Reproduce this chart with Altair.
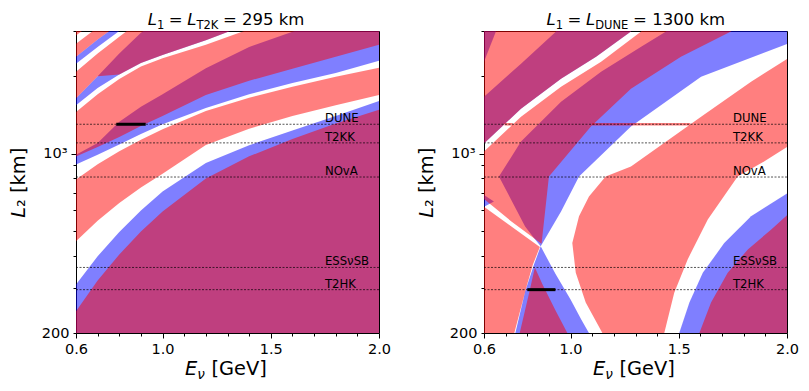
import altair as alt
import pandas as pd

FONT = "DejaVu Sans"

# ---------------- axis / reference data ----------------
E_DOMAIN = [0.6, 2.0]
L_DOMAIN = [200, 3000]
E_TICKS = [0.6, 0.7, 0.8, 0.9, 1.0, 1.1, 1.2, 1.3, 1.4, 1.5, 1.6, 1.7, 1.8, 1.9, 2.0]
L_TICKS = [200, 300, 400, 500, 600, 700, 800, 900, 1000, 2000, 3000]

EXPERIMENTS = ["DUNE", "T2KK", "NOvA", "ESSνSB", "T2HK"]
EXP_L = [1300, 1100, 810, 360, 295]
LABEL_E = 1.75

LEFT_SEG_E = [0.786, 0.922]
LEFT_SEG_L = 1300
RIGHT_SEG_E = [0.80, 0.93]
RIGHT_SEG_L = 295

# ---------------- left panel (L1 = 295 km) boundaries ----------------
E_GRID = [0.5, 0.6, 0.7, 0.8, 0.9, 1.0, 1.2, 1.4, 1.6, 1.8, 2.0, 2.1]
FLOOR = [100] * 12
CEIL = [12000] * 12
LB1 = [190, 243, 320, 404, 497, 595, 800, 975, 1140, 1310, 1480, 1560]
LB2 = [240, 309, 398, 495, 600, 712, 918, 1077, 1230, 1400, 1600, 1680]
LB3 = [370, 455, 547, 641, 737, 835, 1080, 1250, 1400, 1540, 1690, 1760]
LB4 = [690, 793, 908, 1021, 1132, 1243, 1465, 1650, 1820, 1990, 2160, 2250]
LB5 = [820, 906, 990, 1085, 1190, 1300, 1505, 1700, 1880, 2060, 2300, 2400]
LB6 = [880, 973, 1060, 1160, 1280, 1400, 1690, 1920, 2140, 2380, 2650, 2800]
LB7 = [900, 990, 1100, 1330, 1520, 1700, 2150, 2600, 2980, 3400, 3800, 4000]
LB8 = [1250, 1450, 1700, 1950, 2180, 2350, 2650, 3050, 3450, 3850, 4300, 4500]
LB9 = [1330, 1540, 1800, 2030, 2250, 2420, 2760, 3200, 3600, 4000, 4400, 4600]
LB9R = [1420, 1642, 2000, 2030, 2250, 2420, 2760, 3200, 3600, 4000, 4400, 4600]
LB10 = [1420, 1642, 2000, 2450, 2950, 3400, 4000, 4600, 5100, 5600, 6100, 6300]
LB11 = [1800, 2082, 2450, 2850, 3300, 3750, 4400, 5000, 5500, 6000, 6500, 6700]
LB12 = [1950, 2236, 2600, 3000, 3450, 3900, 4600, 5200, 5700, 6200, 6700, 6900]
LB13 = [2080, 2381, 2780, 3200, 3650, 4100, 4800, 5400, 5900, 6400, 6900, 7100]
LB14 = [2330, 2674, 3100, 3550, 4000, 4500, 5200, 5800, 6300, 6800, 7300, 7500]
LB15 = [2500, 2880, 3350, 3800, 4300, 4800, 5500, 6100, 6600, 7100, 7600, 7800]

LEFT_BLUE_BANDS = [(FLOOR, LB2), (LB5, LB7), (LB9, LB10), (LB12, LB13)]
LEFT_RED_BANDS = [(FLOOR, LB1), (LB3, LB4), (LB6, LB8), (LB9R, LB11), (LB13, LB14),
                  (LB15, CEIL)]

# ---------------- right panel (L1 = 1300 km) regions ----------------
R_RED_BIG_E = [1.16, 1.147, 1.07, 1.024, 1.008, 1.039, 1.085, 1.162, 1.279, 1.603, 1.834,
               2.003, 2.1, 2.1, 2.003, 1.894, 1.772, 1.634, 1.541, 1.479, 1.433, 1.42]
R_RED_BIG_L = [150, 200, 263, 343, 448, 570, 680, 814, 890, 1392, 1905,
               2340, 2550, 1130, 1065, 931, 814, 553, 387, 287, 200, 150]
R_RED_LR_E = [1.57, 1.595, 1.649, 1.726, 1.819, 1.926, 2.003, 2.1, 2.1]
R_RED_LR_L = [150, 200, 263, 343, 423, 505, 578, 620, 150]
R_RED_LL_E = [0.5, 0.735, 0.74, 0.795, 0.826, 0.858, 0.725, 0.6, 0.5]
R_RED_LL_L = [150, 150, 200, 300, 370, 432, 521, 621, 600]
R_RED_LEFT_E = [0.5, 0.6, 0.725, 0.85, 0.866, 0.9, 1.094, 1.279, 1.51, 1.741, 1.8,
                1.34, 1.326, 1.141, 0.956, 0.771, 0.6, 0.5]
R_RED_LEFT_L = [640, 665, 545, 455, 445, 814, 1273, 1789, 2381, 2985, 3400,
                3400, 2985, 2277, 1821, 1392, 1018, 950]
R_RED_TL_E = [0.5, 0.6, 0.771, 0.956, 1.118, 1.279, 1.29, 0.5]
R_RED_TL_L = [1030, 1093, 1495, 1956, 2381, 2985, 3400, 3400]
R_RED_TRI_E = [0.758, 0.765, 0.81, 0.835, 0.87, 0.93, 0.985, 0.995]
R_RED_TRI_L = [150, 200, 290, 360, 310, 245, 200, 150]
# thin red strip where L2 = L1 (only where not already red)
R_SAME_E = [(0.695, 0.733), (1.10, 1.553)]
R_SAME_L = [1285, 1315]

R_BLUE_LR_E = [1.48, 1.502, 1.549, 1.611, 1.71, 1.834, 2.003, 2.1, 2.1]
R_BLUE_LR_L = [150, 200, 263, 343, 448, 570, 701, 760, 150]
R_BLUE_WEDGE_E = [0.74, 0.745, 0.79, 0.831, 0.862, 0.93, 1.0, 1.05, 1.085, 1.10]
R_BLUE_WEDGE_L = [150, 200, 290, 370, 435, 340, 270, 225, 200, 150]
R_BLUE_UP_E = [0.862, 0.956, 1.039, 1.279, 1.603, 2.003, 2.1, 2.1, 1.5, 1.441, 1.326,
               1.141, 0.956, 0.771, 0.669, 0.79, 0.83]
R_BLUE_UP_L = [435, 595, 814, 1273, 1991, 2674, 2850, 3400, 3400, 2985, 2604,
               2082, 1592, 1113, 814, 520, 470]
R_BLUE_TIP_E = [0.55, 0.6, 0.646, 0.6, 0.55]
R_BLUE_TIP_L = [600, 620, 650, 690, 690]
R_BLUE_TL_E = [0.5, 0.6, 0.771, 0.956, 1.118, 1.279, 1.29, 0.94, 0.933, 0.771, 0.6, 0.5]
R_BLUE_TL_L = [1030, 1093, 1495, 1956, 2381, 2985, 3400, 3400, 2985, 2236, 1665, 1500]
R_BLUE_CORNER_E = [0.5, 0.6, 0.655, 0.66, 0.5]
R_BLUE_CORNER_L = [2100, 2277, 2985, 3400, 3400]

# ---------------- helpers ----------------
W, H = 303, 302
XS = alt.Scale(domain=E_DOMAIN, nice=False, zero=False)
YS = alt.Scale(type="log", domain=L_DOMAIN, nice=False)
MAJOR_E_TEST = "datum.value==0.6||datum.value==1||datum.value==1.5||datum.value==2"
DUMMY = pd.DataFrame({"a": [0]})

XA = alt.Axis(values=E_TICKS, title=None, grid=False, domain=False,
              labelExpr="(" + MAJOR_E_TEST + ") ? format(datum.value, '.1f') : ''",
              tickSize={"condition": {"test": MAJOR_E_TEST, "value": 5}, "value": 3},
              labelFlush=False, labelOverlap=False, labelPadding=4,
              labelFont=FONT, labelFontSize=14.5, labelColor="black",
              tickColor="black", tickWidth=1)
YA = alt.Axis(values=L_TICKS, title=None, grid=False, domain=False,
              labelExpr="datum.value==1000 ? '10³' : (datum.value==200 ? '200' : '')",
              tickSize={"condition": {"test": "datum.value==1000", "value": 5}, "value": 3},
              labelOverlap=False, labelPadding=4, labelFlush=False,
              labelFont=FONT, labelFontSize=14.5, labelColor="black",
              tickColor="black", tickWidth=1)


def band_poly(lo, hi):
    return E_GRID + E_GRID[::-1], lo + hi[::-1]


def strip_polys(e_ranges, l_pair):
    out = []
    for e0, e1 in e_ranges:
        out.append(([e0, e1, e1, e0], [l_pair[0], l_pair[0], l_pair[1], l_pair[1]]))
    return out


def poly_frame(polys):
    rows = []
    for pid, (es, ls) in enumerate(polys):
        for i, (e, l) in enumerate(zip(es, ls)):
            rows.append({"pid": pid, "i": i, "E": e, "L": l})
    return pd.DataFrame(rows)


def poly_layer(polys, color):
    return alt.Chart(poly_frame(polys)).mark_line(
        fill=color, fillOpacity=0.5, strokeWidth=0, strokeOpacity=0, clip=True
    ).encode(
        x=alt.X("E:Q", scale=XS, axis=XA),
        y=alt.Y("L:Q", scale=YS, axis=YA),
        order=alt.Order("i:Q"),
        detail="pid:N",
    )


def text_piece(text, px, py, size, italic=False, angle=None):
    kw = dict(text=text, font=FONT, fontSize=size, align="left",
              baseline="alphabetic", color="black")
    if italic:
        kw["fontStyle"] = "italic"
    if angle is not None:
        kw["angle"] = angle
    return alt.Chart(DUMMY).mark_text(**kw).encode(x=alt.value(px), y=alt.value(py))


def panel(blue_polys, red_polys, seg_e, seg_l, title_pieces):
    exp_df = pd.DataFrame({"name": EXPERIMENTS, "L": EXP_L, "E": [LABEL_E] * len(EXP_L)})
    lines = alt.Chart(exp_df).mark_rule(
        color="black", strokeWidth=0.9, strokeDash=[2, 1.5], opacity=0.75
    ).encode(y=alt.Y("L:Q", scale=YS, axis=YA))
    labels = alt.Chart(exp_df).mark_text(
        font=FONT, fontSize=11.7, align="left", baseline="alphabetic", dy=-2, color="black"
    ).encode(x=alt.X("E:Q", scale=XS, axis=XA), y=alt.Y("L:Q", scale=YS, axis=YA),
             text="name:N")
    seg_df = pd.DataFrame({"E0": [seg_e[0]], "E1": [seg_e[1]], "L": [seg_l]})
    seg = alt.Chart(seg_df).mark_rule(color="black", strokeWidth=3).encode(
        x=alt.X("E0:Q", scale=XS, axis=XA), x2="E1:Q",
        y=alt.Y("L:Q", scale=YS, axis=YA))
    layers = [poly_layer(blue_polys, "#0000ff"),
              poly_layer(red_polys, "#ff0000"),
              lines, labels, seg]
    for (t, px, size, italic, dy) in title_pieces:
        layers.append(text_piece(t, px, -6 + dy, size, italic))
    layers.append(text_piece("E", 109, H + 42, 19.4, italic=True))
    layers.append(text_piece("ν", 121.3, H + 46, 13.6, italic=True))
    layers.append(text_piece("[GeV]", 135.5, H + 42, 19.4))
    layers.append(text_piece("L", -51, 186.7, 19.4, italic=True, angle=270))
    layers.append(text_piece("₂ [km]", -51, 175.9, 19.4, angle=270))
    return alt.layer(*layers).properties(width=W, height=H)


LEFT_TITLE = [("L", 71.7, 16.5, True, 0), ("1", 80.9, 11.5, False, 4),
              ("=", 92.8, 16.5, False, 0), ("L", 111.2, 16.5, True, 0),
              ("T2K", 120.4, 11.5, False, 4), ("= 295 km", 146.9, 16.5, False, 0)]
RIGHT_TITLE = [("L", 62.5, 16.5, True, 0), ("1", 71.7, 11.5, False, 4),
               ("=", 83.6, 16.5, False, 0), ("L", 102.0, 16.5, True, 0),
               ("DUNE", 111.2, 11.5, False, 4), ("= 1300 km", 149.1, 16.5, False, 0)]

left_blue = [band_poly(lo, hi) for lo, hi in LEFT_BLUE_BANDS]
left_red = [band_poly(lo, hi) for lo, hi in LEFT_RED_BANDS]

right_blue = [(R_BLUE_LR_E, R_BLUE_LR_L), (R_BLUE_WEDGE_E, R_BLUE_WEDGE_L),
              (R_BLUE_UP_E, R_BLUE_UP_L), (R_BLUE_TIP_E, R_BLUE_TIP_L),
              (R_BLUE_TL_E, R_BLUE_TL_L), (R_BLUE_CORNER_E, R_BLUE_CORNER_L)]
right_red = [(R_RED_BIG_E, R_RED_BIG_L), (R_RED_LR_E, R_RED_LR_L),
             (R_RED_LL_E, R_RED_LL_L), (R_RED_LEFT_E, R_RED_LEFT_L),
             (R_RED_TL_E, R_RED_TL_L), (R_RED_TRI_E, R_RED_TRI_L)] + \
    strip_polys(R_SAME_E, R_SAME_L)

left = panel(left_blue, left_red, LEFT_SEG_E, LEFT_SEG_L, LEFT_TITLE)
right = panel(right_blue, right_red, RIGHT_SEG_E, RIGHT_SEG_L, RIGHT_TITLE)

chart = alt.hconcat(left, right, spacing=24).properties(
    padding={"left": 0, "top": 3, "right": 0, "bottom": 0}
).configure_view(stroke="black", strokeWidth=1).configure_axis(grid=False)

chart.save("out.html", embed_options={"renderer": "svg", "actions": False})
